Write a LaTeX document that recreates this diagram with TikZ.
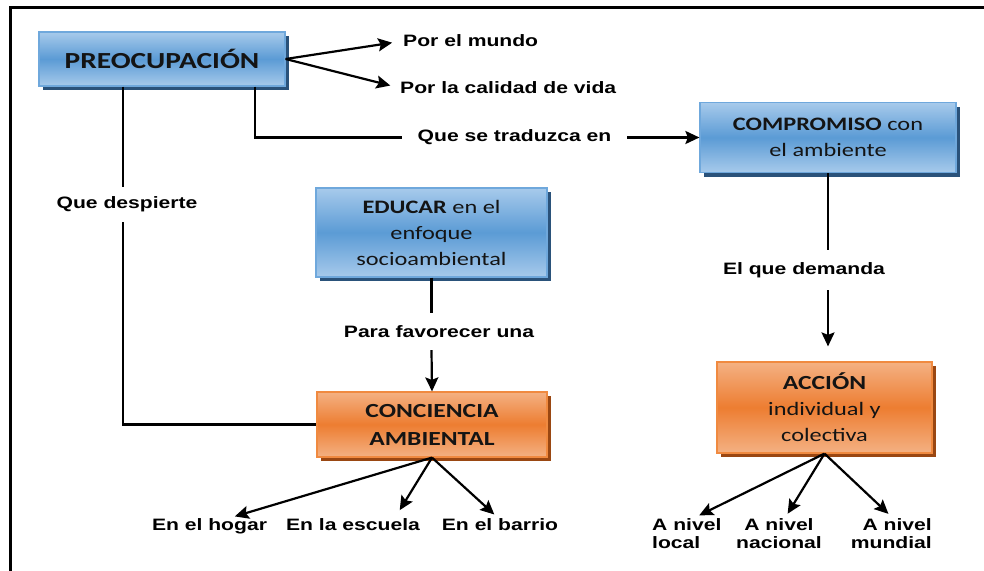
\documentclass[tikz,border=0pt]{standalone}
\usepackage{fontspec}
\newfontfamily\boxfont[FakeStretch=1.28]{Carlito}
\newfontfamily\labfont[FakeStretch=1.28]{Liberation Sans}
\usetikzlibrary{arrows.meta,shadows,calc}
\definecolor{bmid}{HTML}{5B9BD5}
\definecolor{blight}{HTML}{A7CAEB}
\definecolor{bline}{HTML}{6FA8DC}
\definecolor{bshadow}{HTML}{2A527A}
\definecolor{omid}{HTML}{ED7D31}
\definecolor{olight}{HTML}{F4B183}
\definecolor{oline}{HTML}{F08A40}
\definecolor{oshadow}{HTML}{9A4712}
\begin{document}
\begin{tikzpicture}[x=1pt,y=-1pt,
  box/.style={rectangle, line width=1.2pt, align=center, text=black!92, inner sep=0pt},
  bluebox/.style={box, draw=bline, top color=blight, bottom color=blight, middle color=bmid,
    drop shadow={shadow xshift=4pt, shadow yshift=-4pt, fill=bshadow, opacity=1}},
  orangebox/.style={box, draw=oline, top color=olight, bottom color=olight, middle color=omid,
    drop shadow={shadow xshift=4pt, shadow yshift=-4pt, fill=oshadow, opacity=1}},
  bf19/.style={font=\boxfont\fontsize{19}{26}\selectfont},
  lab/.style={font=\labfont\bfseries\fontsize{16.5}{18.5}\selectfont, inner sep=0pt},
  con/.style={line width=2.2pt},
  arr/.style={con, -{Stealth[length=14pt,width=13pt,inset=2.5pt]}},
]
\useasboundingbox (0,0) rectangle (984,570);
\fill[white] (0,0) rectangle (984,570);
\draw[line width=3pt] (10,571) -- (10,7.5) -- (985,7.5);

% boxes
\node[bluebox, minimum width=246pt, minimum height=54pt,
  font=\boxfont\bfseries\fontsize{23}{28}\selectfont] (preo) at (162,59) {PREOCUPACIÓN};
\node[bluebox, bf19, minimum width=256pt, minimum height=70pt] (comp) at (828,137.5)
  {{\bfseries COMPROMISO} con\\el ambiente};
\node[bluebox, bf19, minimum width=231pt, minimum height=89pt] (edu) at (431.5,232.5)
  {{\bfseries EDUCAR} en el\\enfoque\\socioambiental};
\node[orangebox, minimum width=230pt, minimum height=65pt,
  font=\boxfont\bfseries\fontsize{20}{28}\selectfont] (conc) at (432,424.5)
  {CONCIENCIA\\AMBIENTAL};
\node[orangebox, bf19, minimum width=215pt, minimum height=91pt] (acc) at (824.5,407.5)
  {{\bfseries\fontsize{20}{26}\selectfont ACCIÓN}\\individual y\\colectiva};

% labels
\node[lab, anchor=west] (mundo) at (403,41) {Por el mundo};
\node[lab, anchor=west] (calidad) at (400,88) {Por la calidad de vida};
\node[lab, minimum width=225pt] (trad) at (514.5,137.5) {Que se traduzca en};
\node[lab, minimum height=35pt] (desp) at (127,204.5) {Que despierte};
\node[lab, minimum height=37pt] (fav) at (439,331.5) {Para favorecer una};
\node[lab, minimum height=40pt] (dem) at (804,270) {El que demanda};

\node[lab, anchor=base] (hogar) at (209.5,530) {En el hogar};
\node[lab, anchor=base] (escuela) at (353,530) {En la escuela};
\node[lab, anchor=base] (barrio) at (500,530) {En el barrio};

\node[lab, align=left, anchor=north west] (local) at (652,518) {A nivel\\local};
\node[lab, align=center, anchor=north] (nacional) at (779,518) {A nivel\\nacional};
\node[lab, align=right, anchor=north east] (mundial) at (932,518) {A nivel\\mundial};

% connectors
\coordinate (pd) at ([xshift=-39pt]preo.south);
\coordinate (pt) at ([xshift=93pt]preo.south);

\draw[arr, shorten >=11pt] (preo.east) -- (mundo.west);
\draw[arr, shorten >=10pt] (preo.east) -- (calidad.west);

\draw[con] (pt) |- (trad.west);
\draw[arr] (trad.east) -- (comp.west |- trad.east);

\draw[con] (pd) -- (pd |- desp.north);
\draw[con] (pd |- desp.south) |- (conc.west);

\draw[con] (edu.south) -- (edu.south |- fav.north);
\draw[arr] (edu.south |- fav.south) -- (conc.north);

\draw[con] (comp.south) -- (comp.south |- dem.north);
\draw[arr, shorten >=15pt] (comp.south |- dem.south) -- (comp.south |- acc.north);

\draw[arr, shorten >=5pt] (conc.south) -- ([xshift=20.5pt]hogar.north);
\draw[arr, shorten >=9pt] (conc.south) -- ([xshift=42pt]escuela.north);
\draw[arr, shorten >=5pt] (conc.south) -- ([xshift=-2pt]barrio.north);

\draw[arr, shorten >=6pt] (acc.south) -- ([xshift=7pt]local.north);
\draw[arr, shorten >=5pt] (acc.south) -- ([xshift=6pt]nacional.north);
\draw[arr, shorten >=6pt] (acc.south) -- ([xshift=1.5pt]mundial.north);
\end{tikzpicture}
\end{document}
